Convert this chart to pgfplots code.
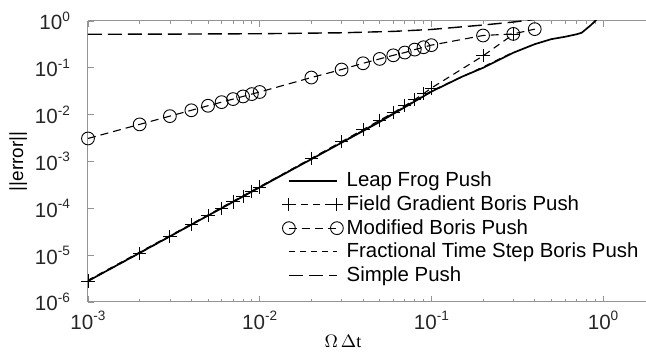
\documentclass[border=0pt]{standalone}
\usepackage{fontspec}
\setmainfont{Liberation Sans}
\newfontfamily\serifface{Liberation Serif}
\usepackage{pgfplots}
\usepackage{pgfplotstable}
\pgfplotsset{compat=1.18}

% power-of-ten tick label with a small raised exponent
\newcommand{\pten}[1]{10\raisebox{4.3pt}{\fontsize{6.8}{7}\selectfont #1}}

% error norms against the normalised time step
\pgfplotstableread{
dt err
0.001 2.8e-6
0.002 1.12e-5
0.005 7.0e-5
0.01 2.8e-4
0.02 1.12e-3
0.05 7.0e-3
0.1 0.031
0.15 0.064
0.2 0.10
0.3 0.21
0.4 0.32
0.5 0.41
0.6 0.46
0.7 0.52
0.75 0.56
0.8 0.68
0.85 0.82
0.9 1.0
0.92 1.1
}\leapfrog

\pgfplotstableread{
dt err
0.001 2.8e-6
0.002 1.1e-5
0.003 2.5e-5
0.004 4.45e-5
0.005 7.0e-5
0.006 1.0e-4
0.007 1.37e-4
0.008 1.8e-4
0.009 2.3e-4
0.01 2.85e-4
0.02 1.16e-3
0.03 2.65e-3
0.04 4.8e-3
0.05 7.6e-3
0.06 0.011
0.07 0.0155
0.08 0.021
0.09 0.028
0.1 0.037
0.2 0.18
0.3 0.52
}\fieldgrad

\pgfplotstableread{
dt err
0.001 3.1e-3
0.002 6.2e-3
0.003 9.3e-3
0.004 0.0124
0.005 0.0155
0.006 0.0185
0.007 0.0215
0.008 0.0245
0.009 0.0275
0.01 0.0305
0.02 0.062
0.03 0.092
0.04 0.125
0.05 0.155
0.06 0.185
0.07 0.212
0.08 0.245
0.09 0.275
0.1 0.305
0.2 0.49
0.3 0.53
0.4 0.67
}\modboris

\pgfplotstableread{
dt err
0.001 2.9e-6
0.002 1.16e-5
0.005 7.2e-5
0.01 2.9e-4
0.02 1.16e-3
0.05 7.2e-3
0.1 0.032
0.2 0.104
0.3 0.215
}\fractional

\pgfplotstableread{
dt err
0.001 0.52
0.003 0.525
0.01 0.535
0.03 0.56
0.06 0.60
0.1 0.66
0.2 0.82
0.3 0.95
0.4 1.08
}\simple

\definecolor{axisgray}{gray}{0.58}

\begin{document}
\begin{tikzpicture}
\begin{axis}[
  scale only axis,
  width=279pt, height=140.5pt,
  xmode=log, ymode=log,
  xmin=1e-3, xmax=1.7783, ymin=1e-6, ymax=1,
  axis x line=box, axis y line=left,
  axis line style={-, draw=axisgray, line width=0.5pt},
  tick align=inside,
  tick style={draw=axisgray, line width=0.4pt},
  major tick length=3pt, minor tick length=1.6pt,
  yminorticks=false,
  xtick={1e-3,1e-2,1e-1,1},
  xticklabels={\pten{-3},\pten{-2},\pten{-1},\pten{0}},
  ytick={1e-6,1e-5,1e-4,1e-3,1e-2,1e-1,1},
  yticklabels={\pten{-6},\pten{-5},\pten{-4},\pten{-3},\pten{-2},\pten{-1},\pten{0}},
  tick label style={font=\fontsize{10.3}{12}\selectfont, text=black!85},
  xticklabel style={yshift=-1pt},
  yticklabel style={xshift=-5.5pt},
  xlabel={\serifface\fontsize{9}{11}\selectfont $\Omega$\,$\Delta$t},
  xlabel style={at={(rel axis cs:0.457,0)}, anchor=north, yshift=-13pt},
  ylabel={\fontsize{9.5}{11}\selectfont ||error||},
  ylabel style={yshift=-3pt},
  legend cell align=left,
  legend style={draw=none, fill=none, at={(rel axis cs:0.3475,0.475)}, anchor=north west,
    font=\fontsize{10.2}{12}\selectfont, row sep=-0.3pt, inner sep=0pt,
    nodes={inner sep=1.6pt}},
  legend image code/.code={\draw[#1] plot coordinates {(0pt,0pt) (24pt,0pt)};},
  every axis plot/.append style={black},
]
\addplot[line width=0.85pt, mark=none] table[x=dt, y=err] {\leapfrog};
\addlegendentry{Leap Frog Push}
\addplot[line width=0.55pt, dash pattern=on 3.5pt off 2.5pt, mark=+, mark size=3.3pt,
  mark options={solid, line width=0.45pt}] table[x=dt, y=err] {\fieldgrad};
\addlegendentry{Field Gradient Boris Push}
\addplot[line width=0.55pt, dash pattern=on 4pt off 2.5pt, mark=o, mark size=3.2pt,
  mark options={solid, line width=0.45pt}] table[x=dt, y=err] {\modboris};
\addlegendentry{Modified Boris Push}
\addplot[line width=0.6pt, dash pattern=on 3pt off 2.5pt, mark=none] table[x=dt, y=err] {\fractional};
\addlegendentry{Fractional Time Step Boris Push}
\addplot[line width=0.7pt, dash pattern=on 7pt off 3pt, mark=none] table[x=dt, y=err] {\simple};
\addlegendentry{Simple Push}
\end{axis}
\pgfresetboundingbox
\path[use as bounding box] ([xshift=-44pt,yshift=-27pt]current axis.south west)
  rectangle ([yshift=10.5pt]current axis.north east);
\end{tikzpicture}
\end{document}
